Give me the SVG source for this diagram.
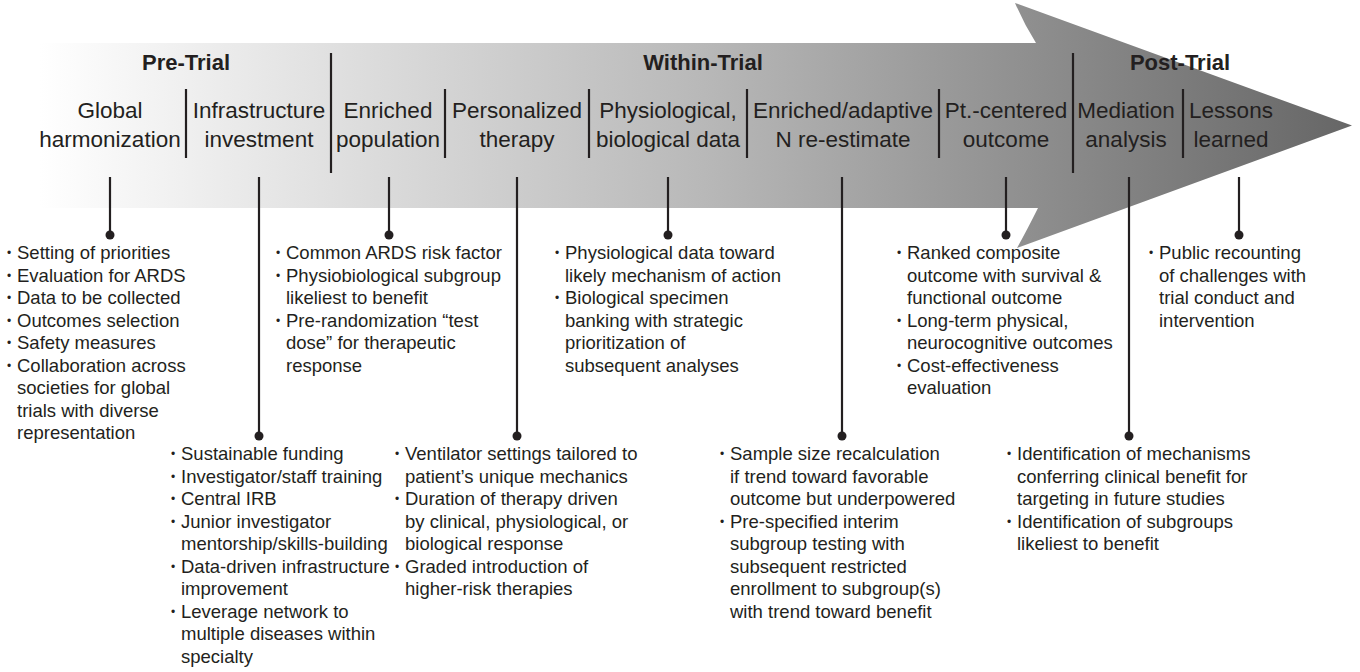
<svg xmlns="http://www.w3.org/2000/svg" width="1360" height="672" viewBox="0 0 1360 672">
<defs>
<linearGradient id="g" x1="40" y1="0" x2="1352" y2="0" gradientUnits="userSpaceOnUse">
<stop offset="0" stop-color="#ffffff"/>
<stop offset="0.5" stop-color="#b9b9b9"/>
<stop offset="1" stop-color="#666666"/>
</linearGradient>
<style>
text{font-family:"Liberation Sans",Arial,sans-serif;fill:#231f20}
.h{font-size:22px;font-weight:bold;text-anchor:middle}
.l{font-size:22.5px;text-anchor:middle}
.b{font-size:18.5px}
.d{font-size:12px}
.sep{stroke:#231f20;stroke-width:2.2;fill:none}
.con{stroke:#231f20;stroke-width:2.2;fill:none}
.dot{fill:#231f20}
</style>
</defs>
<rect width="1360" height="672" fill="#fff"/>
<path id="arrow" d="M40,43 L1036,43 Q1024,24 1015,3 L1352,125.5 L1017,248 Q1027,230 1038,208 L40,208 Z" fill="url(#g)"/>

<g id="phases">
<text class="h" x="186" y="70">Pre-Trial</text>
<text class="h" x="703" y="70">Within-Trial</text>
<text class="h" x="1180" y="70">Post-Trial</text>
<line class="sep" x1="331" y1="53" x2="331" y2="173"/>
<line class="sep" x1="1073" y1="53" x2="1073" y2="173"/>
<line class="sep" x1="186" y1="89" x2="186" y2="158"/>
<line class="sep" x1="445" y1="89" x2="445" y2="158"/>
<line class="sep" x1="589" y1="89" x2="589" y2="158"/>
<line class="sep" x1="747" y1="89" x2="747" y2="158"/>
<line class="sep" x1="939" y1="89" x2="939" y2="158"/>
<line class="sep" x1="1183" y1="89" x2="1183" y2="158"/>
</g>

<g id="connectors">
<line class="con" x1="110" y1="177" x2="110" y2="235"/><circle class="dot" cx="110" cy="235" r="4.5"/>
<line class="con" x1="259" y1="177" x2="259" y2="436"/><circle class="dot" cx="259" cy="436" r="4.5"/>
<line class="con" x1="389" y1="177" x2="389" y2="235"/><circle class="dot" cx="389" cy="235" r="4.5"/>
<line class="con" x1="517" y1="177" x2="517" y2="436"/><circle class="dot" cx="517" cy="436" r="4.5"/>
<line class="con" x1="668" y1="177" x2="668" y2="235"/><circle class="dot" cx="668" cy="235" r="4.5"/>
<line class="con" x1="842" y1="177" x2="842" y2="436"/><circle class="dot" cx="842" cy="436" r="4.5"/>
<line class="con" x1="1006" y1="177" x2="1006" y2="235"/><circle class="dot" cx="1006" cy="235" r="4.5"/>
<line class="con" x1="1129" y1="177" x2="1129" y2="436"/><circle class="dot" cx="1129" cy="436" r="4.5"/>
<line class="con" x1="1239" y1="177" x2="1239" y2="235"/><circle class="dot" cx="1239" cy="235" r="4.5"/>
</g>

<g id="n-global">
<text class="l" x="110" y="118">Global</text>
<text class="l" x="110" y="147">harmonization</text>
<g class="b">
<text class="d" x="7" y="257">•</text><text class="b" x="17" y="259">Setting of priorities</text>
<text class="d" x="7" y="279.5">•</text><text class="b" x="17" y="281.5">Evaluation for ARDS</text>
<text class="d" x="7" y="302">•</text><text class="b" x="17" y="304">Data to be collected</text>
<text class="d" x="7" y="324.5">•</text><text class="b" x="17" y="326.5">Outcomes selection</text>
<text class="d" x="7" y="347">•</text><text class="b" x="17" y="349">Safety measures</text>
<text class="d" x="7" y="369.5">•</text><text class="b" x="17" y="371.5">Collaboration across</text>
<text class="b" x="17" y="394">societies for global</text>
<text class="b" x="17" y="416.5">trials with diverse</text>
<text class="b" x="17" y="439">representation</text>
</g>
</g>

<g id="n-infra">
<text class="l" x="259" y="118">Infrastructure</text>
<text class="l" x="259" y="147">investment</text>
<text class="d" x="171" y="458">•</text><text class="b" x="181" y="460">Sustainable funding</text>
<text class="d" x="171" y="480.5">•</text><text class="b" x="181" y="482.5">Investigator/staff training</text>
<text class="d" x="171" y="503">•</text><text class="b" x="181" y="505">Central IRB</text>
<text class="d" x="171" y="525.5">•</text><text class="b" x="181" y="527.5">Junior investigator</text>
<text class="b" x="181" y="550">mentorship/skills-building</text>
<text class="d" x="171" y="570.5">•</text><text class="b" x="181" y="572.5">Data-driven infrastructure</text>
<text class="b" x="181" y="595">improvement</text>
<text class="d" x="171" y="615.5">•</text><text class="b" x="181" y="617.5">Leverage network to</text>
<text class="b" x="181" y="640">multiple diseases within</text>
<text class="b" x="181" y="662.5">specialty</text>
</g>

<g id="n-enriched">
<text class="l" x="388" y="118">Enriched</text>
<text class="l" x="388" y="147">population</text>
<text class="d" x="276" y="257">•</text><text class="b" x="286" y="259">Common ARDS risk factor</text>
<text class="d" x="276" y="279.5">•</text><text class="b" x="286" y="281.5">Physiobiological subgroup</text>
<text class="b" x="286" y="304">likeliest to benefit</text>
<text class="d" x="276" y="324.5">•</text><text class="b" x="286" y="326.5">Pre-randomization “test</text>
<text class="b" x="286" y="349">dose” for therapeutic</text>
<text class="b" x="286" y="371.5">response</text>
</g>

<g id="n-personalized">
<text class="l" x="517" y="118">Personalized</text>
<text class="l" x="517" y="147">therapy</text>
<text class="d" x="395" y="458">•</text><text class="b" x="405" y="460">Ventilator settings tailored to</text>
<text class="b" x="405" y="482.5">patient’s unique mechanics</text>
<text class="d" x="395" y="503">•</text><text class="b" x="405" y="505">Duration of therapy driven</text>
<text class="b" x="405" y="527.5">by clinical, physiological, or</text>
<text class="b" x="405" y="550">biological response</text>
<text class="d" x="395" y="570.5">•</text><text class="b" x="405" y="572.5">Graded introduction of</text>
<text class="b" x="405" y="595">higher-risk therapies</text>
</g>

<g id="n-physio">
<text class="l" x="668" y="118">Physiological,</text>
<text class="l" x="668" y="147">biological data</text>
<text class="d" x="555" y="257">•</text><text class="b" x="565" y="259">Physiological data toward</text>
<text class="b" x="565" y="281.5">likely mechanism of action</text>
<text class="d" x="555" y="302">•</text><text class="b" x="565" y="304">Biological specimen</text>
<text class="b" x="565" y="326.5">banking with strategic</text>
<text class="b" x="565" y="349">prioritization of</text>
<text class="b" x="565" y="371.5">subsequent analyses</text>
</g>

<g id="n-adaptive">
<text class="l" x="843" y="118">Enriched/adaptive</text>
<text class="l" x="843" y="147">N re-estimate</text>
<text class="d" x="720" y="458">•</text><text class="b" x="730" y="460">Sample size recalculation</text>
<text class="b" x="730" y="482.5">if trend toward favorable</text>
<text class="b" x="730" y="505">outcome but underpowered</text>
<text class="d" x="720" y="525.5">•</text><text class="b" x="730" y="527.5">Pre-specified interim</text>
<text class="b" x="730" y="550">subgroup testing with</text>
<text class="b" x="730" y="572.5">subsequent restricted</text>
<text class="b" x="730" y="595">enrollment to subgroup(s)</text>
<text class="b" x="730" y="617.5">with trend toward benefit</text>
</g>

<g id="n-ptcentered">
<text class="l" x="1006" y="118">Pt.-centered</text>
<text class="l" x="1006" y="147">outcome</text>
<text class="d" x="897" y="257">•</text><text class="b" x="907" y="259">Ranked composite</text>
<text class="b" x="907" y="281.5">outcome with survival &amp;</text>
<text class="b" x="907" y="304">functional outcome</text>
<text class="d" x="897" y="324.5">•</text><text class="b" x="907" y="326.5">Long-term physical,</text>
<text class="b" x="907" y="349">neurocognitive outcomes</text>
<text class="d" x="897" y="369.5">•</text><text class="b" x="907" y="371.5">Cost-effectiveness</text>
<text class="b" x="907" y="394">evaluation</text>
</g>

<g id="n-mediation">
<text class="l" x="1126" y="118">Mediation</text>
<text class="l" x="1126" y="147">analysis</text>
<text class="d" x="1007" y="458">•</text><text class="b" x="1017" y="460">Identification of mechanisms</text>
<text class="b" x="1017" y="482.5">conferring clinical benefit for</text>
<text class="b" x="1017" y="505">targeting in future studies</text>
<text class="d" x="1007" y="525.5">•</text><text class="b" x="1017" y="527.5">Identification of subgroups</text>
<text class="b" x="1017" y="550">likeliest to benefit</text>
</g>

<g id="n-lessons">
<text class="l" x="1231" y="118">Lessons</text>
<text class="l" x="1231" y="147">learned</text>
<text class="d" x="1149" y="257">•</text><text class="b" x="1159" y="259">Public recounting</text>
<text class="b" x="1159" y="281.5">of challenges with</text>
<text class="b" x="1159" y="304">trial conduct and</text>
<text class="b" x="1159" y="326.5">intervention</text>
</g>
</svg>
